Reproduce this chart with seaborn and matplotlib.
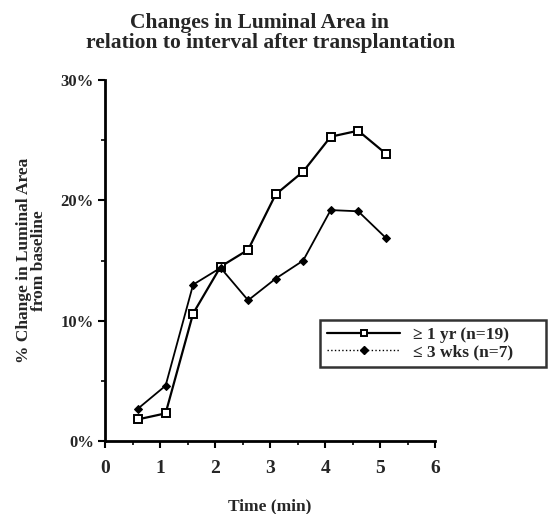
import matplotlib
matplotlib.use("Agg")
import matplotlib.pyplot as plt
from matplotlib.lines import Line2D
from matplotlib.ticker import MultipleLocator, FuncFormatter
import seaborn as sns
import pandas as pd

sns.set_style("white")
plt.rcParams['font.family'] = ['Liberation Serif', 'DejaVu Serif']
plt.rcParams['font.weight'] = 'bold'

time_min = [0.6, 1.1, 1.6, 2.1, 2.6, 3.1, 3.6, 4.1, 4.6, 5.1]
ge_1yr = [1.8, 2.3, 10.6, 14.5, 15.9, 20.5, 22.4, 25.3, 25.8, 23.9]
le_3wks = [2.7, 4.6, 13.0, 14.4, 11.7, 13.5, 15.0, 19.2, 19.1, 16.9]
labels = ["\u2265 1 yr (n=19)", "\u2264 3 wks (n=7)"]

df1 = pd.DataFrame({"t": time_min, "v": ge_1yr})
df2 = pd.DataFrame({"t": time_min, "v": le_3wks})

fig = plt.figure(figsize=(5.53, 5.14), dpi=100)
ax = fig.add_axes([0.19, 0.142, 0.597, 0.702])

sns.lineplot(data=df1, x="t", y="v", ax=ax, color="black", linewidth=1.6,
             marker="s", markersize=5.5, markerfacecolor="white",
             markeredgecolor="black", markeredgewidth=1.4)
sns.lineplot(data=df2, x="t", y="v", ax=ax, color="black", linewidth=1.3,
             marker="D", markersize=4.5, markerfacecolor="black",
             markeredgecolor="black")

ax.set_xlim(0, 6)
ax.set_ylim(0, 30)
ax.xaxis.set_major_locator(MultipleLocator(1))
ax.xaxis.set_minor_locator(MultipleLocator(0.5))
ax.yaxis.set_major_locator(MultipleLocator(10))
ax.yaxis.set_minor_locator(MultipleLocator(5))
ax.yaxis.set_major_formatter(FuncFormatter(lambda v, p: f"{int(v)}%"))
ax.tick_params(axis="both", which="major", direction="out", length=5,
               width=1.5, color="black", bottom=True, left=True)
ax.tick_params(axis="both", which="minor", direction="out", length=3,
               width=1.2, color="black", bottom=True, left=True)
ax.tick_params(axis="x", labelsize=14, pad=9)
ax.tick_params(axis="y", labelsize=12, pad=3)
for lab in ax.get_xticklabels() + ax.get_yticklabels():
    lab.set_fontweight("bold")

for s in ["top", "right"]:
    ax.spines[s].set_visible(False)
for s in ["left", "bottom"]:
    ax.spines[s].set_color("black")
    ax.spines[s].set_linewidth(2)

ax.set_xlabel("Time (min)", fontsize=12.5, fontweight="bold", labelpad=15)
ax.set_ylabel("% Change in Luminal Area\nfrom baseline", fontsize=12.5,
              fontweight="bold", labelpad=10, linespacing=0.9)

fig.text(0.47, 0.956, "Changes in Luminal Area in", ha="center", va="center",
         fontsize=15.5, fontweight="bold")
fig.text(0.49, 0.916, "relation to interval after transplantation", ha="center",
         va="center", fontsize=15.5, fontweight="bold")

handles = [
    Line2D([], [], color="black", linewidth=1.6, marker="s", markersize=5,
           markerfacecolor="white", markeredgecolor="black", markeredgewidth=1.4),
    Line2D([], [], color="black", linewidth=1.0, linestyle=":", marker="D",
           markersize=4.5, markerfacecolor="black"),
]
leg = fig.legend(handles, [l + "      " for l in labels], loc="upper left",
                 bbox_to_anchor=(0.579, 0.377), frameon=True, fancybox=False,
                 prop={"family": "Liberation Serif", "weight": "bold", "size": 12.5},
                 handlelength=4.2, handletextpad=0.75, borderpad=0.4,
                 labelspacing=0.05, borderaxespad=0)
leg.get_frame().set_edgecolor("black")
leg.get_frame().set_linewidth(1.8)

fig.savefig("out.png", dpi=100)
